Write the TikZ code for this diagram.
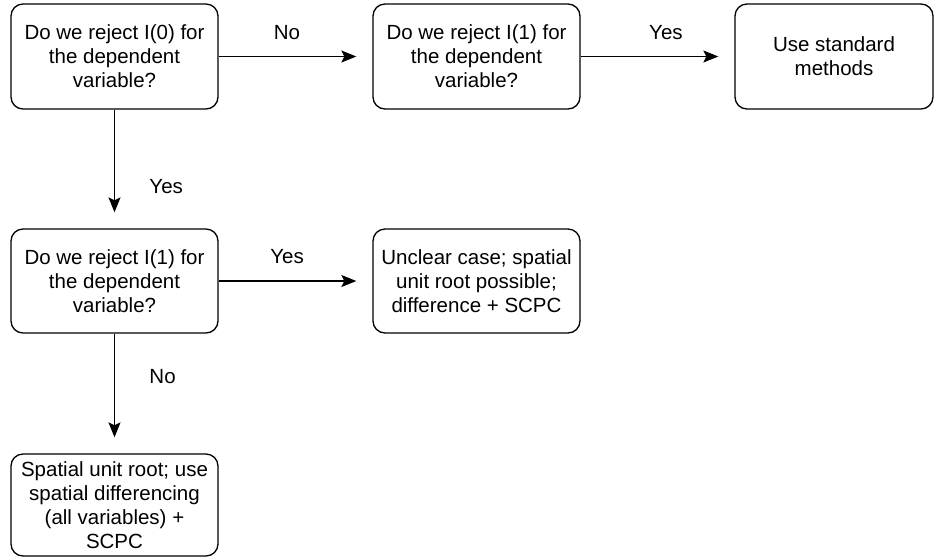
\documentclass[tikz,border=0pt]{standalone}
\usepackage{fontspec}
\setmainfont{Liberation Sans}
\usepackage{tikz}
\usetikzlibrary{arrows.meta}
\tikzstyle{box} = [rectangle, rounded corners=12pt, draw, line width=1.3pt, minimum width=207pt, minimum height=105pt, align=center, inner sep=2pt]
\tikzstyle{arrow} = [line width=1.3pt, -{Stealth[length=15pt, width=12pt, inset=3pt]}, shorten >=16pt]

\begin{document}
\begin{tikzpicture}[x=1pt, y=-1pt, every node/.style={font=\fontsize{20.5}{24}\selectfont}]
\useasboundingbox (0,0) rectangle (935,558);

% --- Top row ---
\node[box] (q0) at (114.5,56.5) {Do we reject I(0) for\\the dependent\\variable?};
\node[box] (q1a) at (476.5,56.5) {Do we reject I(1) for\\the dependent\\variable?};
\node[box, minimum width=198pt] (std) at (834,56.5) {Use standard\\methods};

% --- Middle row ---
\node[box, minimum height=104pt] (q1b) at (114.5,281) {Do we reject I(1) for\\the dependent\\variable?};
\node[box, minimum height=104pt] (unclear) at (476.5,281) {Unclear case; spatial\\unit root possible;\\difference + SCPC};

% --- Bottom ---
\node[box, minimum height=102pt] (sur) at (114.5,505) {Spatial unit root; use\\spatial differencing\\(all variables) +\\SCPC};

% connections
\draw[arrow] (q0) -- (q1a) node[pos=0.445, above=13pt] (lno1) {No};
\draw[arrow] (q1a) -- (std) node[pos=0.555, above=13pt] (lyes1) {Yes};
\draw[arrow] (q0) -- (q1b) node[pos=0.65, right=31pt] (lyes2) {Yes};
\draw[arrow] (q1b) -- (unclear) node[pos=0.445, above=13pt] (lyes3) {Yes};
\draw[arrow] (q1b) -- (sur) node[pos=0.355, right=31pt] (lno2) {No};

\end{tikzpicture}
\end{document}
